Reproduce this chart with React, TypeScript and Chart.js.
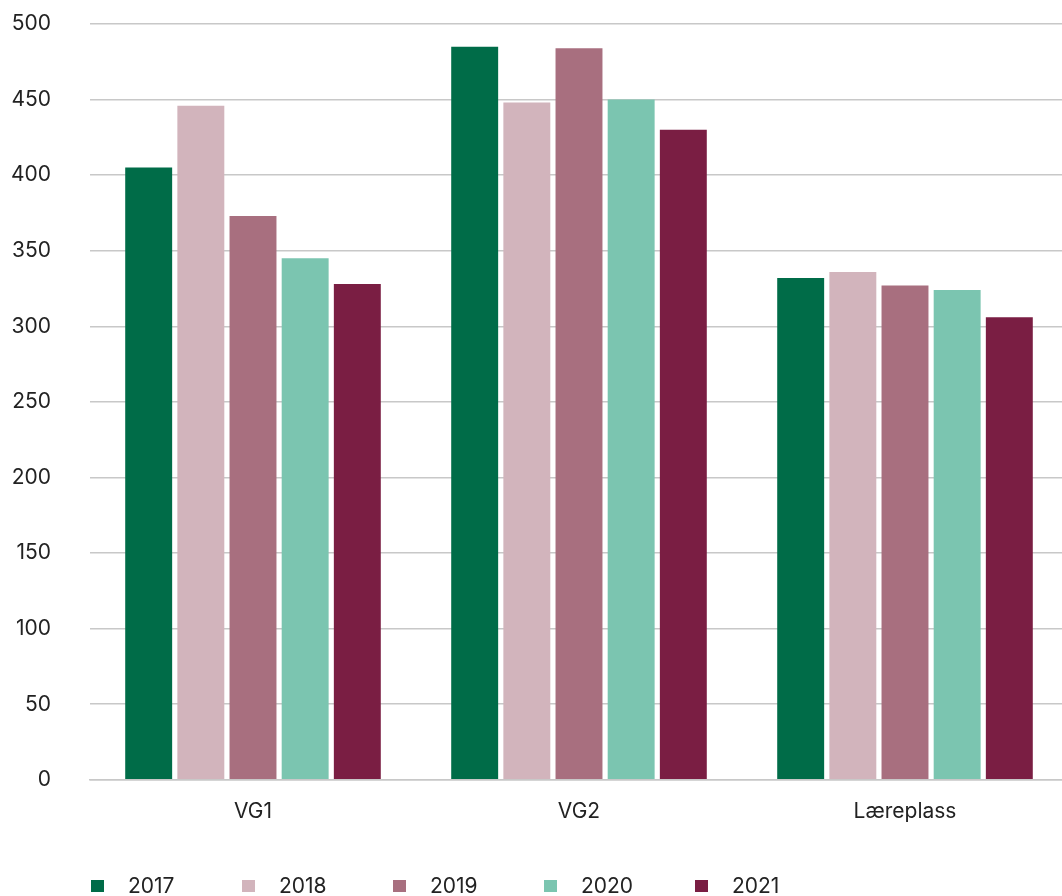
import React, { useEffect, useRef } from "react";
import { Chart, registerables } from "chart.js";

Chart.register(...registerables);

const categories = ["VG1", "VG2", "Læreplass"];
const seriesLabels = ["2017", "2018", "2019", "2020", "2021"];
const values2017 = [405, 485, 332];
const values2018 = [446, 448, 336];
const values2019 = [373, 484, 327];
const values2020 = [345, 450, 324];
const values2021 = [328, 430, 306];
const seriesColors = ["#006C48", "#D2B4BC", "#A86F7F", "#7BC5B0", "#7A1E43"];
const yTicks = [0, 50, 100, 150, 200, 250, 300, 350, 400, 450, 500];

const FONT = "Inter, 'Noto Sans', sans-serif";

export default function App() {
  const ref = useRef<HTMLCanvasElement | null>(null);

  useEffect(() => {
    document.body.style.margin = "0";
    const allValues = [values2017, values2018, values2019, values2020, values2021];
    const chart = new Chart(ref.current!, {
      type: "bar",
      data: {
        labels: categories,
        datasets: seriesLabels.map((label, i) => ({
          label,
          data: allValues[i],
          backgroundColor: seriesColors[i],
          borderWidth: 0,
          barPercentage: 0.9,
          categoryPercentage: 0.8,
        })),
      },
      options: {
        animation: false,
        responsive: false,
        maintainAspectRatio: false,
        layout: { padding: { left: 0, right: 0, top: 24, bottom: 53 } },
        plugins: { legend: { display: false }, tooltip: { enabled: false } },
        scales: {
          x: {
            grid: { display: false, drawTicks: false },
            border: { display: true, color: "#c8c8c8", width: 1.5 },
            ticks: { color: "#222", font: { family: FONT, size: 21 }, padding: 19 },
          },
          y: {
            min: 0,
            max: 500,
            afterBuildTicks: (axis: any) => {
              axis.ticks = yTicks.map((v) => ({ value: v }));
            },
            afterFit: (axis: any) => {
              axis.width = 90;
              axis.paddingTop = 0;
              axis.paddingBottom = 0;
            },
            grid: { color: "#c8c8c8", lineWidth: 1.5, drawTicks: false },
            border: { display: false },
            ticks: { color: "#222", font: { family: FONT, size: 21 }, padding: 39 },
          },
        },
      },
    });
    return () => chart.destroy();
  }, []);

  return (
    <div style={{ position: "relative", width: 1062, height: 896, overflow: "hidden", background: "#fff" }}>
      <canvas ref={ref} width={1068} height={896} style={{ display: "block" }} />
      <div style={{ position: "absolute", left: 91, top: 873, display: "flex", fontFamily: FONT, fontSize: 21, color: "#222" }}>
        {seriesLabels.map((l, i) => (
          <div key={l} style={{ width: 151, display: "flex", alignItems: "center" }}>
            <span style={{ width: 13, height: 12, background: seriesColors[i], display: "inline-block", marginRight: 24 }} />
            <span>{l}</span>
          </div>
        ))}
      </div>
    </div>
  );
}
